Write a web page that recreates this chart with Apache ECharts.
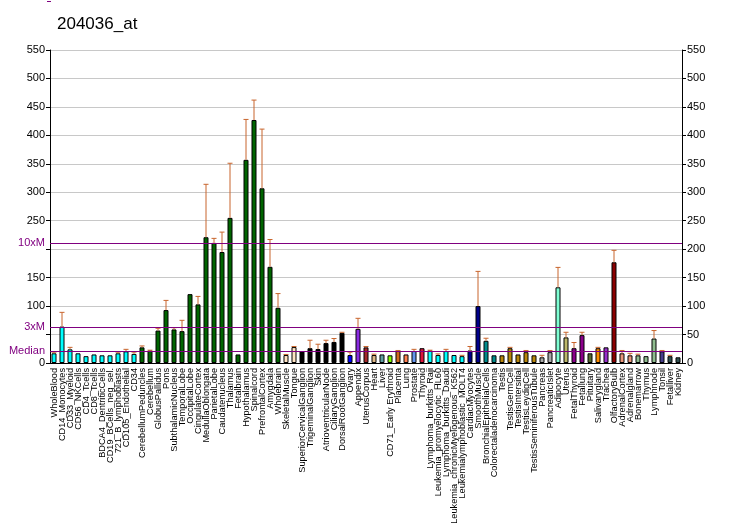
<!DOCTYPE html>
<html>
<head>
<meta charset="utf-8">
<script src="https://cdn.jsdelivr.net/npm/echarts@6/dist/echarts.min.js"></script>
<style>html,body{margin:0;padding:0;background:#fff}#c{width:732px;height:530px}</style>
</head>
<body>
<div id="c"></div>
<script>
const categories = ["WholeBlood","CD14_Monocytes","CD33_Myeloid","CD56_NKCells","CD4_Tcells","CD8_Tcells","BDCA4_DentriticCells","CD19_BCells_neg_sel.","721_B_lymphoblasts","CD105_Endothelial","CD34","CerebellumPeduncles","Cerebellum","GlobusPallidus","Pons","SubthalamicNucleus","TemporalLobe","OccipitalLobe","CingulateCortex","MedullaOblongata","ParietalLobe","Caudatenucleus","Thalamus","Fetalbrain","Hypothalamus","Spinalcord","PrefrontalCortex","Amygdala","Wholebrain","SkeletalMuscle","Tongue","SuperiorCervicalGanglion","TrigeminalGanglion","Skin","AtrioventricularNode","CiliaryGanglion","DorsalRootGanglion","Ovary","Appendix","UterusCorpus","Heart","Liver","CD71_Early Erythroid","Placenta","Lung","Prostate","Thyroid","Lymphoma_burkitts_Raji","Leukemia_promyelocytic_HL60","Lymphoma_burkitts_Daudi","Leukemia_chronicMyelogenous_K562","Leukemialymphoblastic_MOLT4","CardiacMyocytes","SmoothMuscle","BronchialEpithelialCells","Colorectaladenocarcinoma","Testis","TestisGermCell","TestisIntersitial","TestisLeydigCell","TestisSeminiferousTubule","Pancreas","PancreaticIslet","Adipocyte","Uterus","FetalThyroid","Fetallung","Pituitary","Salivarygland","Trachea","OlfactoryBulb","AdrenalCortex","Adrenalgland","Bonemarrow","Thymus","Lymphnode","Tonsil","Fetalliver","Kidney"];
const values = [17,64,24,17,12,15,13.5,13.5,17,20.5,16,
  27.5,22,57,93,59,56,121,103,221,211,195,255,15,357,427,307,169,97,
  14,28,
  20.5,26,24.5,35,37,53,
  14,60,
  27.5,14,15,13.5,21,15,21,26,
  22,14,21,14,12,
  22,100,
  39,13.5,
  13.5,26,15,19,13.5,
  10,19,
  133,45,26,49,17,26,27.5,177,17,13.5,13.5,12,43,20.5,12,10];
const errTops = [19,89,27.5,null,null,null,null,null,19,24,19,
  30,22.5,61,110,62,75,null,117,314,219,230,351,null,428,462,411,217,122,
  15,29,
  null,40,33,40,43,54,
  19,78.5,
  29,15.5,null,null,22,null,24,null,
  22.5,16,24,null,13.5,
  29,161,
  43.5,null,
  null,27.5,null,22,null,
  13.5,22,
  168,54,36,54,null,27.5,null,198,22,17,15.5,null,57,22,13.5,null];
const barColors = ["#00FFFF","#00FFFF","#00FFFF","#00FFFF","#00FFFF","#00FFFF","#00FFFF","#00FFFF","#00FFFF","#00FFFF","#00FFFF",
  "#006400","#006400","#006400","#006400","#006400","#006400","#006400","#006400","#006400","#006400","#006400","#006400","#006400","#006400","#006400","#006400","#006400","#006400",
  "#FFE4C4","#FFE4C4",
  "#000000","#000000","#000000","#000000","#000000","#000000",
  "#0000FF","#8A2BE2",
  "#A52A2A","#DEB887","#5F9EA0","#7FFF00","#D2691E","#FF7F50","#6495ED","#DC143C",
  "#00FFFF","#00FFFF","#00FFFF","#00FFFF","#00FFFF",
  "#00008B","#00008B",
  "#008B8B","#008B8B",
  "#B8860B","#B8860B","#B8860B","#B8860B","#B8860B",
  "#A9A9A9","#A9A9A9",
  "#7FFFD4","#BDB76B","#8B008B","#8B008B","#556B2F","#FF8C00","#9932CC","#8B0000","#E9967A","#E9967A","#8FBC8F","#8FBC8F","#8FBC8F","#483D8B","#2F4F4F","#2F4F4F"];
const refLines = [{name:"10xM", value:211},{name:"3xM", value:63},{name:"Median", value:21}];
const yTicks = {min:0, max:550, interval:50};

const FONT = "Liberation Sans, Arial, sans-serif";
const errData = [];
errTops.forEach((e,i)=>{ if(e!==null) errData.push([i, values[i], e]); });

const chart = echarts.init(document.getElementById('c'), null, {renderer:'canvas'});
chart.setOption({
  animation:false,
  backgroundColor:'#fff',
  textStyle:{fontFamily:FONT},
  title:{text:'204036_at', left:52, top:11, textStyle:{fontFamily:FONT, fontSize:17, fontWeight:'normal', color:'#000'}},
  graphic:[{type:'rect', shape:{x:47,y:1,width:4,height:1}, style:{fill:'#800080'}}],
  grid:{left:50, right:50, top:50, bottom:167, containLabel:false, outerBoundsMode:'none'},
  xAxis:{type:'category', data:categories,
    axisLine:{lineStyle:{color:'#000'}},
    axisTick:{interval:0, length:4, lineStyle:{color:'#000'}},
    axisLabel:{interval:0, rotate:90, fontSize:9.2, color:'#000', margin:5, fontFamily:FONT},
    splitLine:{show:false}},
  yAxis:[
    {type:'value', min:yTicks.min, max:yTicks.max, interval:yTicks.interval, position:'left',
     axisLine:{show:true, lineStyle:{color:'#000'}},
     axisTick:{show:true, length:4, lineStyle:{color:'#000'}},
     axisLabel:{fontSize:11, color:'#000', margin:5, fontFamily:FONT,
       formatter:v=> (v===50||v===200)?'':String(v)},
     splitLine:{show:true, lineStyle:{color:'#C8C8C8', width:1}}},
    {type:'value', min:yTicks.min, max:yTicks.max, interval:yTicks.interval, position:'right',
     axisLine:{show:true, lineStyle:{color:'#000'}},
     axisTick:{show:true, length:4, lineStyle:{color:'#000'}},
     axisLabel:{fontSize:11, color:'#000', margin:5, fontFamily:FONT},
     splitLine:{show:false}}
  ],
  series:[
    {type:'bar', yAxisIndex:0, barWidth:5,
     data: values.map((v,i)=>({value:v, itemStyle:{color:barColors[i]}})),
     itemStyle:{borderColor:'#000', borderWidth:1},
     markLine:{silent:true, symbol:'none',
       lineStyle:{color:'#800080', width:1, type:'solid'},
       label:{show:true, position:'start', formatter:'{b}', color:'#800080', fontSize:11, fontFamily:FONT, distance:5},
       data: refLines.map(r=>({name:r.name, yAxis:r.value}))},
     z:2},
    {type:'custom', yAxisIndex:0, z:3,
     data: errData,
     encode:{x:0, y:2},
     renderItem:(params, api)=>{
       const base = api.coord([api.value(0), api.value(1)]);
       const top = api.coord([api.value(0), api.value(2)]);
       const st = {stroke:'#C8652D', lineWidth:1};
       return {type:'group', children:[
         {type:'line', shape:{x1:base[0], y1:base[1], x2:top[0], y2:top[1]}, style:st},
         {type:'line', shape:{x1:top[0]-2.5, y1:top[1], x2:top[0]+2.5, y2:top[1]}, style:st}
       ]};
     }}
  ]
});
</script>
</body>
</html>
